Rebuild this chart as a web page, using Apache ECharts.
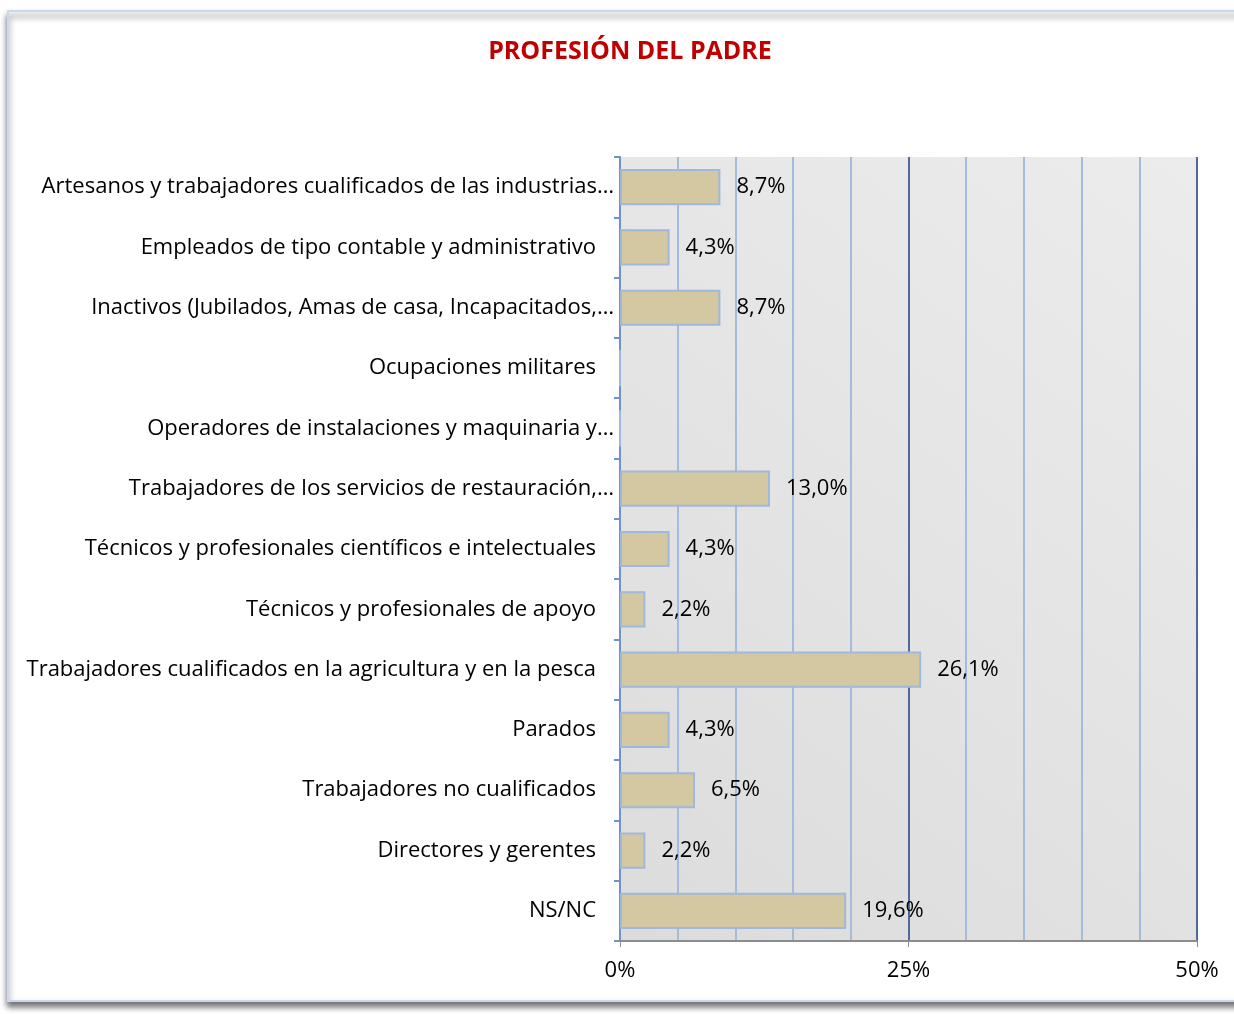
<!DOCTYPE html>
<html>
<head>
<meta charset="utf-8">
<script src="https://cdn.jsdelivr.net/npm/echarts@6/dist/echarts.min.js"></script>
<style>
  html, body { margin: 0; padding: 0; background: #fff; }
  #chart { width: 1234px; height: 1014px; }
</style>
</head>
<body>
<div id="chart"></div>
<script>
const categories = [
  'Artesanos y trabajadores cualificados de las industrias…',
  'Empleados de tipo contable y administrativo',
  'Inactivos (Jubilados, Amas de casa, Incapacitados,…',
  'Ocupaciones militares',
  'Operadores de instalaciones y maquinaria y…',
  'Trabajadores de los servicios de restauración,…',
  'Técnicos y profesionales científicos e intelectuales',
  'Técnicos y profesionales de apoyo',
  'Trabajadores cualificados en la agricultura y en la pesca',
  'Parados',
  'Trabajadores no cualificados',
  'Directores y gerentes',
  'NS/NC'
]
const values = [8.7, 4.3, 8.7, 0, 0, 13.0, 4.3, 2.2, 26.1, 4.3, 6.5, 2.2, 19.6]
const xTicks = [0, 25, 50]

const font = 'Open Sans'
const chart = echarts.init(document.getElementById('chart'))

const option = {
  backgroundColor: '#fff',
  title: {
    text: 'PROFESIÓN DEL PADRE',
    left: 625,
    textAlign: 'center',
    top: 34,
    textStyle: { color: '#c00000', fontSize: 25, fontWeight: 'bold', fontFamily: font }
  },
  graphic: [{
    type: 'rect',
    z: -10,
    shape: { x: 8, y: 11, width: 1240, height: 990 },
    style: {
      fill: '#fff',
      stroke: '#c9d8ef',
      lineWidth: 2,
      shadowBlur: 6,
      shadowOffsetY: 5,
      shadowColor: 'rgba(0,0,0,0.55)'
    }
  }],
  grid: {
    left: 620,
    right: 37,
    top: 157,
    bottom: 73,
    show: true,
    borderWidth: 0,
    backgroundColor: new echarts.graphic.LinearGradient(0, 1, 1, 0, [
      { offset: 0, color: '#dcdcdc' },
      { offset: 1, color: '#ececec' }
    ])
  },
  xAxis: [{
    type: 'value',
    min: 0,
    max: 50,
    interval: 5,
    axisLine: { show: true, lineStyle: { color: '#8c8c8c', width: 2 } },
    axisTick: { show: false },
    axisLabel: { show: false },
    splitLine: {
      show: true,
      lineStyle: { color: ['#4d6a98', '#a3bbdd', '#a3bbdd', '#a3bbdd', '#a3bbdd'], width: 2 }
    }
  }, {
    type: 'value',
    position: 'bottom',
    min: 0,
    max: 50,
    interval: 25,
    axisLine: { show: false },
    axisTick: { show: true, length: 6, lineStyle: { color: '#8c8c8c', width: 1 } },
    axisLabel: {
      margin: 19,
      color: '#000',
      fontSize: 22,
      fontFamily: font,
      formatter: v => xTicks.includes(v) ? v + '%' : ''
    },
    splitLine: { show: false }
  }],
  yAxis: {
    type: 'category',
    data: categories,
    inverse: true,
    axisLine: { show: true, lineStyle: { color: '#6f93c8', width: 2 } },
    axisTick: { show: true, length: 6, lineStyle: { color: '#6f93c8', width: 2 } },
    axisLabel: {
      margin: 6,
      color: '#000',
      fontSize: 22,
      fontFamily: font,
      // truncated names let their "…" hang into the gap, as in the original
      formatter: v => v.endsWith('…') ? '{c|' + v + '}' : '{n|' + v + '}',
      rich: {
        n: { color: '#000', fontSize: 22, fontFamily: font, padding: [0, 18, 0, 0] },
        c: { color: '#000', fontSize: 22, fontFamily: font }
      }
    },
    splitLine: { show: false }
  },
  series: [{
    type: 'bar',
    xAxisIndex: 0,
    data: values,
    barWidth: '60%',
    itemStyle: { color: '#d3c8a1', borderColor: '#9fb8db', borderWidth: 2 },
    label: {
      show: true,
      position: 'right',
      distance: 16,
      color: '#000',
      fontSize: 22,
      fontFamily: font,
      formatter: p => p.value > 0 ? p.value.toFixed(1).replace('.', ',') + '%' : ''
    }
  }]
}
chart.setOption(option)
</script>
</body>
</html>
